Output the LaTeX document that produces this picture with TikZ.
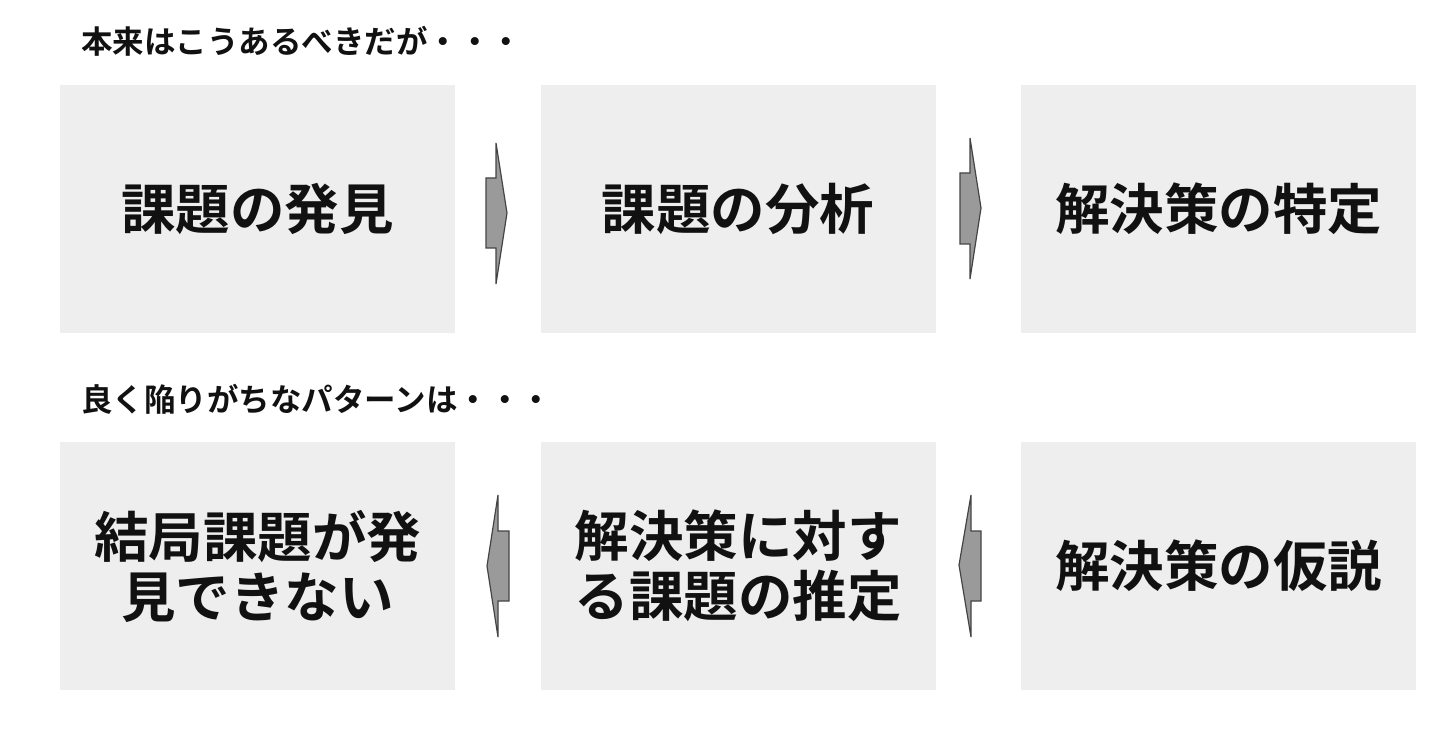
\documentclass[tikz,border=0pt]{standalone}
\usepackage{fontspec}
\setmainfont{Noto Sans CJK JP}[BoldFont={Noto Sans CJK JP Bold}]
\definecolor{boxfill}{HTML}{EEEEEE}
\definecolor{arrfill}{HTML}{9A9A9A}
\definecolor{arrline}{HTML}{444444}
\definecolor{txt}{HTML}{111111}
\tikzset{
  stagebox/.style={fill=boxfill, draw=none, minimum width=395pt, minimum height=248pt,
    inner sep=0pt, text=txt, align=center,
    font=\bfseries\fontsize{54.5}{60}\selectfont},
  heading/.style={anchor=west, inner sep=0pt, text=txt, font=\bfseries\fontsize{31.5}{34}\selectfont},
  blockarrow/.style={fill=arrfill, draw=arrline, line width=1.2pt, line join=miter}
}
\begin{document}
\begin{tikzpicture}[x=1pt,y=-1pt]
\fill[white] (0,0) rectangle (1456,735);
\useasboundingbox (0,0) rectangle (1456,735);

\node[heading] (h1) at (81,41) {本来はこうあるべきだが・・・};
\node[heading] (h2) at (81,399) {良く陥りがちなパターンは・・・};

\node[stagebox] (a1) at (257.5,209) {課題の発見};
\node[stagebox] (a2) at (738,209) {課題の分析};
\node[stagebox] (a3) at (1218.5,209) {解決策の特定};

\node[stagebox] (b1) at (257.5,566) {結局課題が発\\見できない};
\node[stagebox] (b2) at (738,566) {解決策に対す\\る課題の推定};
\node[stagebox] (b3) at (1218.5,566) {解決策の仮説};

% right-pointing block arrows
\draw[blockarrow] (486,178) -- (496,178) -- (496,143) -- (507,213) -- (496,284) -- (496,248) -- (486,248) -- cycle;
\draw[blockarrow] (960,173) -- (970,173) -- (970,138) -- (981,208) -- (970,279) -- (970,244) -- (960,244) -- cycle;
% left-pointing block arrows
\draw[blockarrow] (509,531) -- (498,531) -- (498,495) -- (487,566) -- (498,637) -- (498,601) -- (509,601) -- cycle;
\draw[blockarrow] (981,531) -- (971,531) -- (971,495) -- (959,565) -- (971,637) -- (971,601) -- (981,601) -- cycle;
\end{tikzpicture}
\end{document}
